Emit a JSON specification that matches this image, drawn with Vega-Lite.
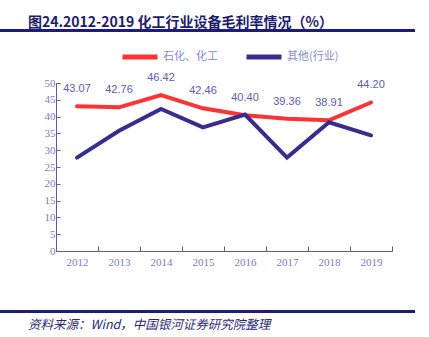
{
  "$schema": "https://vega.github.io/schema/vega-lite/v6.json",
  "padding": {"left": 0, "top": 14, "right": 0, "bottom": 0},
  "background": "white",
  "spacing": 0,
  "resolve": {"legend": {"color": "independent"}},
  "datasets": {
    "margin": [
      {"year": "2012", "series": "石化、化工", "v": 43.07},
      {"year": "2013", "series": "石化、化工", "v": 42.76},
      {"year": "2014", "series": "石化、化工", "v": 46.42},
      {"year": "2015", "series": "石化、化工", "v": 42.46},
      {"year": "2016", "series": "石化、化工", "v": 40.40},
      {"year": "2017", "series": "石化、化工", "v": 39.36},
      {"year": "2018", "series": "石化、化工", "v": 38.91},
      {"year": "2019", "series": "石化、化工", "v": 44.20},
      {"year": "2012", "series": "其他(行业)", "v": 27.8},
      {"year": "2013", "series": "其他(行业)", "v": 35.8},
      {"year": "2014", "series": "其他(行业)", "v": 42.3},
      {"year": "2015", "series": "其他(行业)", "v": 36.8},
      {"year": "2016", "series": "其他(行业)", "v": 40.6},
      {"year": "2017", "series": "其他(行业)", "v": 27.8},
      {"year": "2018", "series": "其他(行业)", "v": 38.3},
      {"year": "2019", "series": "其他(行业)", "v": 34.4}
    ],
    "blank": [{"k": 1}]
  },
  "vconcat": [
    {
      "width": 413,
      "height": 1,
      "view": {"stroke": "#1c1c80", "strokeWidth": 2},
      "title": {
        "text": "图24.2012-2019 化工行业设备毛利率情况（%）",
        "anchor": "start",
        "frame": "group",
        "dx": 27,
        "offset": -5,
        "font": "Noto Sans CJK SC",
        "fontSize": 14,
        "fontWeight": "bold",
        "color": "#1c1c6b"
      },
      "data": {"name": "blank"},
      "mark": {"type": "text"},
      "encoding": {"text": {"value": ""}}
    },
    {
      "spacing": 0,
      "resolve": {"legend": {"color": "independent"}},
      "hconcat": [
        {
          "width": 1,
          "height": 1,
          "view": {"stroke": null},
          "data": {"name": "blank"},
          "mark": {"type": "text"},
          "encoding": {"text": {"value": ""}}
        },
        {
          "width": 336,
          "height": 168,
          "view": {"stroke": null},
          "data": {"name": "margin"},
          "encoding": {
            "x": {
              "field": "year", "type": "ordinal", "bandPosition": 0.5,
              "scale": {"type": "band", "paddingInner": 0, "paddingOuter": 0},
              "axis": {
                "title": null,
                "labelAngle": 0,
                "labelFont": "Liberation Serif",
                "labelFontSize": 11,
                "labelColor": "#7b7bc4",
                "labelPadding": 10,
                "tickBand": "extent",
                "tickSize": -5,
                "tickColor": "#5a5aa8",
                "domainColor": "#5a5aa8",
                "grid": false,
                "minExtent": 53,
                "maxExtent": 53
              }
            },
            "y": {
              "field": "v", "type": "quantitative",
              "scale": {"domain": [0, 50], "nice": false},
              "axis": {
                "title": null,
                "values": [0,5,10,15,20,25,30,35,40,45,50],
                "labelFont": "Liberation Serif",
                "labelFontSize": 11,
                "labelColor": "#7b7bc4",
                "labelPadding": 5,
                "tickSize": -4,
                "tickColor": "#5a5aa8",
                "domainColor": "#5a5aa8",
                "grid": false,
                "minExtent": 54,
                "maxExtent": 54
              }
            },
            "color": {
              "field": "series", "type": "nominal",
              "scale": {"domain": ["石化、化工", "其他(行业)"], "range": ["#ff3333", "#3a2c8c"]},
              "legend": {
                "title": null,
                "orient": "none",
                "direction": "horizontal",
                "legendX": 64,
                "legendY": -46,
                "symbolType": "stroke",
                "symbolSize": 1225,
                "symbolStrokeWidth": 5,
                "labelFont": "Noto Sans CJK SC",
                "labelFontSize": 11,
                "labelColor": "#8a8ad0",
                "labelOffset": 3,
                "columnPadding": 18
              }
            }
          },
          "layer": [
            {"mark": {"type": "line", "strokeWidth": 4, "strokeCap": "round", "strokeJoin": "miter"}},
            {
              "transform": [{"filter": "datum.series === '石化、化工'"}],
              "mark": {"type": "text", "dy": -17, "font": "Liberation Sans", "fontSize": 11, "color": "#5c5cb0"},
              "encoding": {
                "text": {"field": "v", "type": "quantitative", "format": ".2f"},
                "color": {"value": "#5c5cb0"}
              }
            }
          ]
        }
      ]
    },
    {
      "width": 413,
      "height": 1,
      "view": {"stroke": "#1c1c80", "strokeWidth": 2},
      "title": {
        "text": "资料来源：Wind，中国银河证券研究院整理",
        "orient": "bottom",
        "anchor": "start",
        "frame": "group",
        "dx": 27,
        "offset": 2,
        "font": "Noto Sans CJK SC",
        "fontSize": 12.5,
        "fontStyle": "italic",
        "fontWeight": "normal",
        "color": "#2a2a7a"
      },
      "data": {"name": "blank"},
      "mark": {"type": "text"},
      "encoding": {"text": {"value": ""}}
    }
  ]
}
